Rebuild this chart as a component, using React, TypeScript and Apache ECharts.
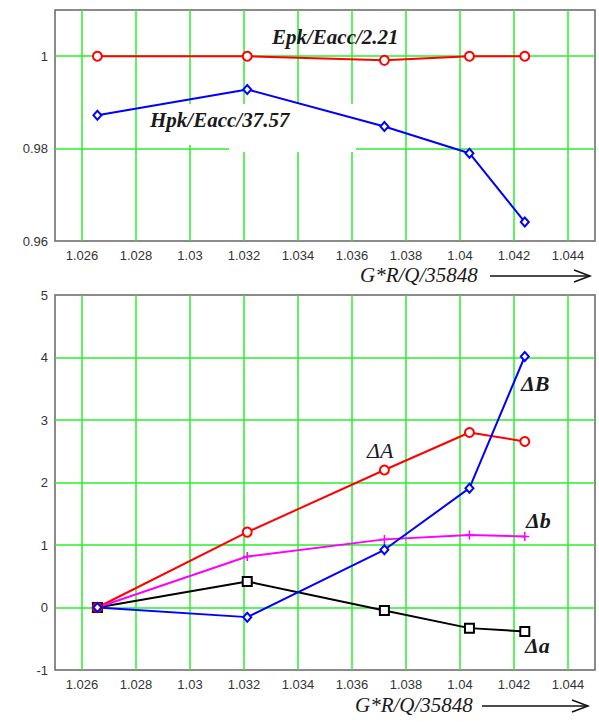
import React, { useEffect, useRef } from 'react';
import * as echarts from 'echarts';

// x positions (G*R/Q/35848) shared by both panels
const xValues = [1.02657, 1.03212, 1.0372, 1.04035, 1.0424];

// top panel
const epkEacc = [1, 1, 0.9991, 1, 1];
const hpkEacc = [0.9872, 0.9928, 0.9848, 0.979, 0.9641];

// bottom panel
const deltaA = [0, 1.206, 2.2, 2.8, 2.656];
const deltaB = [0, -0.154, 0.923, 1.91, 4.016];
const deltaSmallB = [0, 0.816, 1.09, 1.16, 1.136];
const deltaSmallA = [0, 0.416, -0.048, -0.33, -0.384];

const xRange = [1.025, 1.045];
const xStep = 0.002;
const topYRange = [0.96, 1.01];
const topYStep = 0.02;
const botYRange = [-1, 5];
const botYStep = 1;

const axisTitle = 'G*R/Q/35848';

export default function App() {
  const ref = useRef<HTMLDivElement>(null);

  useEffect(() => {
    const chart = echarts.init(ref.current!, null, { renderer: 'svg' });
    const pairs = (ys: number[]) => xValues.map((x, i) => [x, ys[i]]);

    const gridLine = {
      show: true,
      showMinLine: false,
      showMaxLine: false,
      lineStyle: { color: '#2bee2b', width: 1.5 },
    };
    const labelStyle = {
      color: '#333',
      fontFamily: 'Liberation Sans',
      fontSize: 13,
    };
    const xAxis = (gridIndex: number) => ({
      type: 'value',
      gridIndex,
      min: xRange[0],
      max: xRange[1],
      minInterval: xStep,
      maxInterval: xStep,
      splitNumber: 10,
      axisLine: { show: false },
      axisTick: { show: false },
      axisLabel: { ...labelStyle, margin: 8, showMinLabel: false, showMaxLabel: false },
      splitLine: gridLine,
    });
    const yAxis = (gridIndex: number, r: number[], step: number, hideMax: boolean) => ({
      type: 'value',
      gridIndex,
      min: r[0],
      max: r[1],
      interval: step,
      axisLine: { show: false },
      axisTick: { show: false },
      axisLabel: { ...labelStyle, margin: 7, showMaxLabel: !hideMax },
      splitLine: gridLine,
    });

    const lineSeries = (
      name: string,
      ys: number[],
      xi: number,
      color: string,
      symbol: string,
      symbolSize: number | number[],
      z = 2
    ) => ({
      name,
      type: 'line',
      xAxisIndex: xi,
      yAxisIndex: xi,
      data: pairs(ys),
      symbol,
      symbolSize,
      z,
      color,
      lineStyle: { color, width: 2 },
      itemStyle: symbol.startsWith('path')
        ? { color: 'rgba(0,0,0,0)', borderColor: color, borderWidth: 1.5 }
        : { color, borderWidth: 1.3 },
    });

    const gridBox = { show: true, borderColor: '#666', borderWidth: 1.5, backgroundColor: '#fff' };

    const serif = 'Liberation Serif';
    const label = (text: string, x: number, y: number, size: number, bold: boolean) => ({
      type: 'text',
      x,
      y,
      z: 20,
      style: {
        text,
        fontFamily: serif,
        fontSize: size,
        fontStyle: 'italic',
        fontWeight: bold ? 'bold' : 'normal',
        fill: '#1a1a1a',
        align: 'left',
        verticalAlign: 'middle',
      },
    });
    const arrow = (x1: number, x2: number, y: number) => [
      { type: 'line', z: 20, shape: { x1, y1: y, x2, y2: y }, style: { stroke: '#111', lineWidth: 1.5 } },
      {
        type: 'polyline',
        z: 20,
        shape: { points: [[x2 - 16, y - 6], [x2, y], [x2 - 16, y + 6]] },
        style: { stroke: '#111', lineWidth: 1.5, fill: 'none' },
      },
    ];

    chart.setOption({
      animation: false,
      backgroundColor: '#fff',
      grid: [
        { left: 55, top: 10, width: 540, height: 231, ...gridBox },
        { left: 55, top: 295, width: 540, height: 375, ...gridBox },
      ],
      xAxis: [xAxis(0), xAxis(1)],
      yAxis: [yAxis(0, topYRange, topYStep, true), yAxis(1, botYRange, botYStep, false)],
      series: [
        lineSeries('Epk/Eacc/2.21', epkEacc, 0, '#ff0000', 'emptyCircle', 9),
        lineSeries('Hpk/Eacc/37.57', hpkEacc, 0, '#0000ff', 'emptyDiamond', [8, 9]),
        lineSeries('Δa', deltaSmallA, 1, '#000000', 'emptyRect', 9),
        lineSeries('ΔA', deltaA, 1, '#ff0000', 'emptyCircle', 9),
        lineSeries('Δb', deltaSmallB, 1, '#ff00ff', 'path://M5 0V10M0 5H10', 9),
        lineSeries('ΔB', deltaB, 1, '#0000ff', 'emptyDiamond', [8, 9]),
      ],
      graphic: [
        // white box behind the Hpk label, hiding the grid there
        { type: 'rect', z: 1, shape: { x: 148, y: 104, width: 208, height: 41 }, style: { fill: '#fff' } },
        { type: 'rect', z: 1, shape: { x: 229, y: 145, width: 127, height: 7 }, style: { fill: '#fff' } },
        label('Epk/Eacc/2.21', 272, 37, 21, true),
        label('Hpk/Eacc/37.57', 150, 120, 21, true),
        label(axisTitle, 360, 275, 21, false),
        ...arrow(490, 590, 276),
        label(axisTitle, 355, 705, 21, false),
        ...arrow(482, 588, 706),
        label('ΔA', 367, 450, 22, false),
        label('ΔB', 521, 383, 22, true),
        label('Δb', 526, 520, 22, true),
        label('Δa', 525, 645, 22, true),
      ],
    });
    return () => chart.dispose();
  }, []);

  return (
    <div
      ref={ref}
      style={{ position: 'absolute', left: 0, top: 0, width: 599, height: 722, background: '#fff' }}
    />
  );
}
